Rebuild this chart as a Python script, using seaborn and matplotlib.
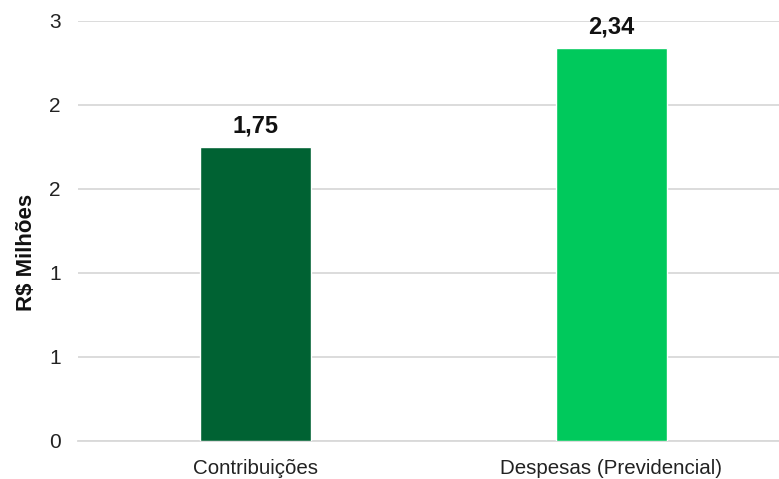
import matplotlib
matplotlib.use("Agg")
import matplotlib.pyplot as plt
import seaborn as sns
import pandas as pd
from matplotlib.ticker import FixedLocator, FuncFormatter
from decimal import Decimal, ROUND_HALF_UP

categories = ["Contribuições", "Despesas (Previdencial)"]
values = [1.75, 2.34]
value_labels = ["1,75", "2,34"]
colors = ["#006233", "#00C95C"]
y_ticks = [0, 0.5, 1.0, 1.5, 2.0, 2.5]

sns.set_theme(style="white")
plt.rcParams["font.family"] = ["Liberation Sans", "DejaVu Sans"]

df = pd.DataFrame({"categoria": categories, "valor": values})

fig = plt.figure(figsize=(7.79, 4.79), dpi=100)
ax = fig.add_axes([77.5 / 779, 38 / 479, 712 / 779, 420 / 479])

sns.barplot(data=df, x="categoria", y="valor", hue="categoria",
            palette=colors, width=0.312, legend=False, ax=ax,
            saturation=1, zorder=3)

ax.set_xlim(-0.5, 1.5)
ax.set_ylim(0, 2.5)
ax.yaxis.set_major_locator(FixedLocator(y_ticks))
ax.yaxis.set_major_formatter(FuncFormatter(
    lambda v, p: str(Decimal(str(v)).quantize(Decimal("1"), rounding=ROUND_HALF_UP))))

ax.grid(axis="y", color="#d9d9d9", linewidth=1.3, zorder=0)
ax.set_axisbelow(True)
for s in ["top", "right", "left"]:
    ax.spines[s].set_visible(False)
ax.spines["bottom"].set_color("#d9d9d9")
ax.spines["bottom"].set_linewidth(1.3)

ax.tick_params(axis="y", length=0, pad=12, labelsize=15, labelcolor="#222222")
ax.tick_params(axis="x", length=0, pad=13, labelsize=14.8, labelcolor="#222222")

ax.set_xlabel("")
ax.set_ylabel("R$ Milhões", fontsize=16, fontweight="bold", color="#111111")
ax.yaxis.set_label_coords(-40 / 712, 0.45)

for i, (v, lab) in enumerate(zip(values, value_labels)):
    ax.annotate(lab, xy=(i, v), xytext=(0, 7), textcoords="offset points",
                ha="center", va="bottom", fontsize=17, fontweight="bold",
                color="#111111")

fig.savefig("out.png", dpi=100)
